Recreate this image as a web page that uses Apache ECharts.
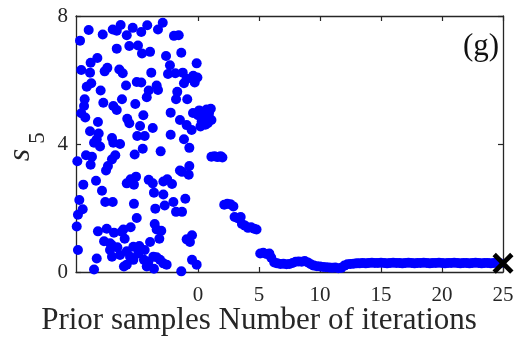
<!DOCTYPE html>
<html>
<head>
<meta charset="utf-8">
<style>
  html, body { margin: 0; padding: 0; background: #fff; }
  #chart { width: 519px; height: 347px; }
</style>
<script src="https://cdn.jsdelivr.net/npm/echarts@6/dist/echarts.min.js"></script>
</head>
<body>
<div id="chart"></div>
<script>
// Prior samples, spread over the negative x band
const priorX = [
  -9.67,-8.96,-7.81,-6.99,-6.66,-6.34,-5.84,-5.35,-4.65,-4.16,-3.28,-2.89,-1.97,-1.58,
  -6.66,-5.63,-4.92,-4.59,-3.93,-2.62,-1.37,-0.11,-9.57,-8.80,-8.25,-8.85,-7.65,-7.43,
  -6.45,-6.17,-5.02,-4.65,-5.90,-3.83,-2.30,-2.46,-1.86,-1.25,-0.93,-0.39,-0.05,-0.27,
  -1.15,-9.12,-8.75,-7.98,-3.39,-3.28,-4.04,-4.20,-1.70,-1.80,-0.88,-9.29,-9.34,-9.57,
  -9.24,-7.76,-6.94,-6.66,-6.23,-5.14,-4.48,-2.24,-8.20,-5.80,-5.63,-4.75,-4.98,-4.37,
  -3.71,-2.24,-1.15,-0.71,-8.85,-8.14,-8.30,-8.52,-8.03,-7.05,-6.94,-6.39,-4.53,-3.06,
  -5.19,-9.89,-9.18,-8.69,-8.80,-6.78,-7.05,-7.38,-7.54,-0.71,-1.48,-9.40,-8.36,-7.87,
  -5.84,-5.52,-5.08,-5.25,-4.04,-3.71,-3.61,-2.84,-2.52,-2.13,-2.84,-0.76,-9.73,-7.60,
  -6.99,-5.25,-3.50,-2.73,-2.02,-1.80,-1.31,-1.04,-9.45,-9.84,-5.02,-3.55,-3.39,-3.01,
  -9.94,-8.20,-7.48,-6.89,-7.70,-7.21,-6.12,-5.52,-6.01,-3.17,-3.93,-4.81,-0.93,-0.49,
  -0.66,-9.84,-7.21,-6.61,-7.05,-5.84,-5.57,-5.30,-6.07,-5.84,-4.37,-4.43,-4.20,-3.39,
  -3.11,-2.84,-2.57,-3.61,-8.30,-8.52,-1.37,-0.49,-0.11,-1.31,-6.39,-5.30,-4.89,-4.07,
  -3.66,-7.07,-6.25,-1.48,-0.93,-0.52,-0.41
];
const priorY = [
  7.23,7.56,7.42,7.58,7.54,7.72,7.40,7.63,7.50,7.71,7.58,7.79,7.38,7.40,
  6.98,7.06,7.08,6.83,6.88,6.75,6.85,6.52,6.31,6.54,6.69,6.23,6.27,6.38,
  6.33,6.21,5.94,5.92,5.83,6.23,6.46,6.19,6.21,6.23,6.04,6.13,6.08,5.92,
  5.90,5.79,5.90,5.67,5.83,5.69,5.67,5.46,5.63,5.40,5.40,5.40,5.19,4.96,
  4.83,5.29,5.19,5.06,5.40,5.25,4.90,4.98,4.69,4.79,4.65,4.56,4.25,4.25,
  4.50,4.29,4.15,3.88,4.40,4.33,4.15,4.04,3.92,4.19,4.04,4.00,3.85,3.77,
  3.67,3.46,3.65,3.60,3.35,3.65,3.52,3.31,3.17,3.31,3.17,2.73,2.85,2.54,
  2.77,2.90,2.98,2.73,2.88,2.77,2.48,2.83,2.90,2.75,2.42,3.04,2.25,2.19,
  2.19,2.13,1.98,2.08,2.19,1.88,1.88,2.29,1.96,1.79,1.69,1.50,1.33,1.29,
  1.42,1.27,1.35,1.23,0.96,0.90,1.33,1.40,1.04,1.04,0.94,0.81,1.02,1.15,
  0.94,0.69,0.69,0.77,0.48,0.65,0.48,0.38,0.17,0.23,0.69,0.38,0.17,0.46,
  0.38,0.27,0.23,0.10,0.42,0.08,0.02,0.38,0.23,3.13,0.53,0.79,0.58,0.32,
  0.48,0.84,1.26,4.75,4.59,4.44,4.97
];

// Samples recorded over the iterations
const iterX = [
  0.00,0.10,0.20,0.30,0.40,0.55,0.60,0.70,0.80,0.90,1.05,1.10,
  1.10,1.35,1.60,1.85,2.00,
  2.15,2.40,2.65,2.90,
  3.00,3.25,3.50,3.60,3.85,4.10,4.35,4.60,4.80,
  5.10,5.35,5.60,5.85,
  6.00,6.25,6.50,6.75,7.00,7.25,7.50,7.75,8.00,8.25,8.50,8.75,9.00,9.25,9.50,9.75,
  10.00,10.25,10.50,10.75,11.00,11.25,11.50,11.75,12.00,12.25,12.50,12.75,
  13.00,13.25,13.50,13.75,14.00,14.25,14.50,14.75,15.00,15.25,15.50,15.75,
  16.00,16.25,16.50,16.75,17.00,17.25,17.50,17.75,18.00,18.25,18.50,18.75,
  19.00,19.25,19.50,19.75,20.00,20.25,20.50,20.75,21.00,21.25,21.50,21.75,
  22.00,22.25,22.50,22.75,23.00,23.25,23.50,23.75,24.00,24.25,24.50,24.75
];
const iterY = [
  4.90,5.05,4.55,4.70,5.00,4.85,4.60,5.08,4.65,4.95,5.10,4.75,
  3.60,3.62,3.59,3.62,3.58,
  2.10,2.13,2.12,2.05,
  1.72,1.68,1.72,1.50,1.45,1.38,1.40,1.35,1.33,
  0.58,0.60,0.56,0.58,
  0.45,0.30,0.27,0.25,0.26,0.24,0.25,0.28,0.32,0.33,0.32,0.34,0.30,0.24,0.20,0.18,
  0.17,0.16,0.15,0.14,0.13,0.14,0.12,0.13,0.20,0.24,0.25,0.26,
  0.27,0.27,0.28,0.27,0.28,0.29,0.28,0.28,0.29,0.28,0.27,0.28,
  0.29,0.28,0.28,0.27,0.28,0.29,0.28,0.27,0.28,0.28,0.29,0.28,
  0.27,0.28,0.28,0.29,0.28,0.27,0.28,0.28,0.29,0.28,0.27,0.28,
  0.28,0.27,0.28,0.29,0.28,0.27,0.28,0.28,0.27,0.28,0.28,0.27
];

// Final estimate
const finalX = [25];
const finalY = [0.27];

const xTickValues = [0, 5, 10, 15, 20, 25];
const yTickValues = [0, 4, 8];

const serif = '"Liberation Serif", "Times New Roman", serif';
const axisColor = '#262626';

const zip = (xs, ys) => xs.map((x, i) => [x, ys[i]]);

const crossPath = 'path://M1.6,0 L5,3.4 L8.4,0 L10,1.6 L6.6,5 L10,8.4 L8.4,10 L5,6.6 L1.6,10 L0,8.4 L3.4,5 L0,1.6 Z';

const chart = echarts.init(document.getElementById('chart'), null, { renderer: 'canvas' });

function xAxisDef(pos, showLabels) {
  return {
    type: 'value', position: pos, min: -10, max: 25,
    axisLine: { show: true, onZero: false, lineStyle: { color: axisColor, width: 1.3 } },
    axisTick: { show: true, inside: true, length: 5, customValues: xTickValues,
                lineStyle: { color: axisColor, width: 1.2 } },
    axisLabel: { show: showLabels, customValues: xTickValues, margin: 13,
                 fontFamily: serif, fontSize: 21, color: axisColor },
    splitLine: { show: false }
  };
}
function yAxisDef(pos, showLabels) {
  return {
    type: 'value', position: pos, min: 0, max: 8, interval: 4,
    axisLine: { show: true, onZero: false, lineStyle: { color: axisColor, width: 1.3 } },
    axisTick: { show: true, inside: true, length: 5, customValues: yTickValues,
                lineStyle: { color: axisColor, width: 1.2 } },
    axisLabel: { show: showLabels, customValues: yTickValues, margin: 8,
                 fontFamily: serif, fontSize: 21, color: axisColor },
    splitLine: { show: false }
  };
}

const dotStyle = { color: '#0000ff', opacity: 1 };

chart.setOption({
  animation: false,
  backgroundColor: '#ffffff',
  grid: { left: 76, right: 16, top: 16, bottom: 75, containLabel: false },
  xAxis: [xAxisDef('bottom', true), xAxisDef('top', false)],
  yAxis: [yAxisDef('left', true), yAxisDef('right', false)],
  series: [
    {
      name: 'prior', type: 'scatter', xAxisIndex: 0, yAxisIndex: 0,
      data: zip(priorX, priorY), symbol: 'circle', symbolSize: 10,
      itemStyle: dotStyle, silent: true
    },
    {
      name: 'iterations', type: 'scatter', xAxisIndex: 0, yAxisIndex: 0,
      data: zip(iterX, iterY), symbol: 'circle', symbolSize: 10,
      itemStyle: dotStyle, silent: true
    },
    {
      name: 'final', type: 'scatter', xAxisIndex: 0, yAxisIndex: 0,
      data: zip(finalX, finalY), symbol: crossPath, symbolSize: 21,
      itemStyle: { color: '#000000', opacity: 1 }, silent: true, z: 5
    }
  ],
  graphic: [
    {
      type: 'text', x: 259, y: 321,
      style: { text: 'Prior samples Number of iterations', font: '31px ' + serif,
               fill: axisColor, align: 'center', verticalAlign: 'middle' }
    },
    {
      type: 'text', x: 481, y: 47,
      style: { text: '(g)', font: '31px ' + serif, fill: '#111',
               align: 'center', verticalAlign: 'middle' }
    },
    {
      type: 'text', x: 21, y: 155, rotation: Math.PI / 2,
      style: { text: 's', font: 'italic 32px ' + serif, fill: axisColor,
               align: 'center', verticalAlign: 'middle' }
    },
    {
      type: 'text', x: 38, y: 138, rotation: Math.PI / 2,
      style: { text: '5', font: '23px ' + serif, fill: axisColor,
               align: 'center', verticalAlign: 'middle' }
    }
  ]
});
</script>
</body>
</html>
